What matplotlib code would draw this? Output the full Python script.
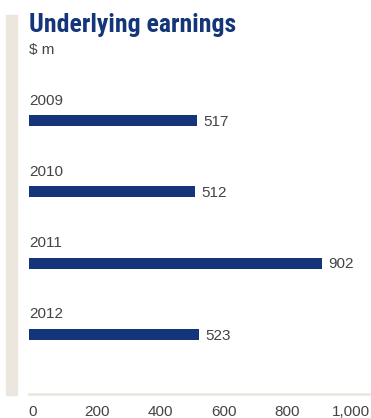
import matplotlib
matplotlib.use("Agg")
import matplotlib.pyplot as plt
import matplotlib.transforms as mtransforms
from matplotlib.patches import Rectangle

years = ["2009", "2010", "2011", "2012"]
earnings = [517, 512, 902, 523]
x_ticks = [0, 200, 400, 600, 800, 1000]
x_tick_labels = ["0", "200", "400", "600", "800", "1,000"]

W, H = 371, 418
NAVY = "#14357a"
GREY = "#444444"
BEIGE = "#ebe7df"

plt.rcParams["font.family"] = ["Liberation Sans", "DejaVu Sans"]

fig = plt.figure(figsize=(W / 100, H / 100), dpi=100)


def fx(px):
    return px / W


def fy(py):
    return 1 - py / H


# plot area: left edge of bars at 29px, baseline at 394px
ax = fig.add_axes([fx(29), fy(394), fx(371 - 29), fy(15) - fy(394)])
ax.set_xlim(0, 1052)
step = 71.3
ax.set_ylim((394 - 120.5) / step, -(120.5 - 15) / step)

pos = list(range(len(years)))
ax.barh(pos, earnings, height=11 / step, color=NAVY, left=0)

for i, (yr, v) in enumerate(zip(years, earnings)):
    ax.text(0, i - 20 / step, yr, ha="left", va="center", fontsize=11, color=GREY)
    ax.annotate(str(v), (v, i), xytext=(4.5, -0.8), textcoords="offset points",
                ha="left", va="center", fontsize=11, color=GREY)

for s in ["top", "right", "left"]:
    ax.spines[s].set_visible(False)
ax.spines["bottom"].set_color(BEIGE)
ax.spines["bottom"].set_linewidth(1.8)
ax.set_yticks([])
ax.set_xticks(x_ticks)
ax.set_xticklabels(x_tick_labels)
ax.tick_params(axis="x", length=0, pad=8, labelsize=11, labelcolor=GREY)

# nudge tick labels so the last one stays inside the figure
n = len(x_ticks) - 1
for k, lab in enumerate(ax.get_xticklabels()):
    dx = (4 - 7 * k / n) / 100
    lab.set_transform(lab.get_transform() +
                      mtransforms.ScaledTranslation(dx, 0, fig.dpi_scale_trans))

# beige strip on the left
fig.patches.append(Rectangle((fx(6), fy(395)), fx(11), fy(15) - fy(395),
                             transform=fig.transFigure, color=BEIGE, zorder=0))

fig.text(fx(29), fy(32), "Underlying earnings", ha="left", va="baseline",
         fontsize=18.5, fontweight="bold", color=NAVY,
         family=["Liberation Sans Narrow", "Roboto Condensed", "DejaVu Sans"])
fig.text(fx(29), fy(54), "$ m", ha="left", va="baseline", fontsize=11, color=GREY)

fig.savefig("out.png", dpi=100)
